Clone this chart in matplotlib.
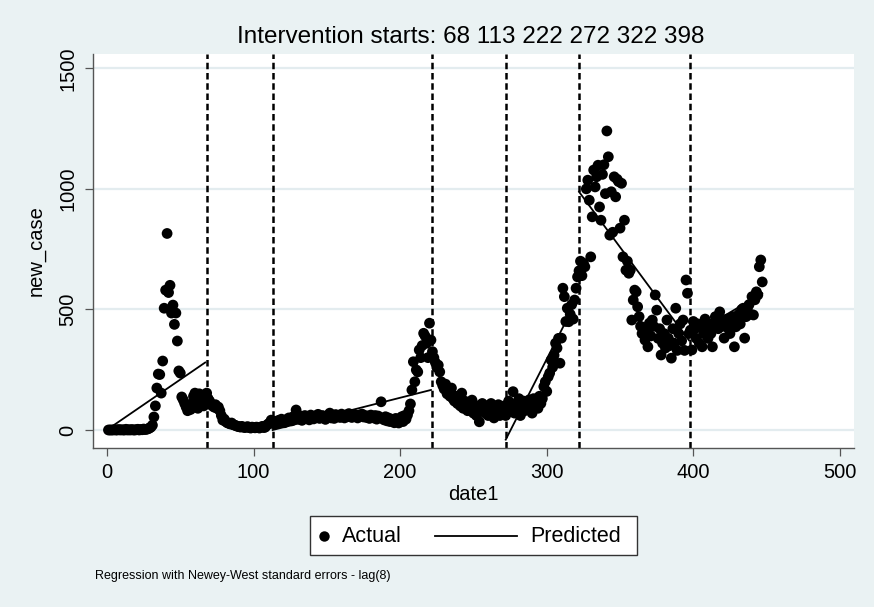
import numpy as np
import matplotlib
matplotlib.use("Agg")
import matplotlib.pyplot as plt
from matplotlib.lines import Line2D
from matplotlib.patches import Rectangle

plt.rcParams['font.family'] = ['Liberation Sans', 'DejaVu Sans']

# ---- data ----
interventions = [68, 113, 222, 272, 322, 398]
seg_starts = [1, 68, 113, 222, 272, 322, 398]

new_case_s1 = [0,0,0,0,1,0,0,2,0,1,0,0,3,0,1,0,2,0,0,1,3,0,2,1,4,2,3,5,8,12,
               20,54,100,174,232,230,153,286,505,580,815,570,600,485,518,438,485,369,245,236,
               137,125,110,95,80,100,85,110,140,153,120,90,150,140,120,100,145]
new_case_s2 = [153,130,120,105,100,95,105,90,95,80,60,41,45,35,30,28,25,29,22,20,
               18,15,14,12,15,12,10,12,14,10,8,12,10,9,12,10,8,12,15,10,12,20,25,29,41]
new_case_s3 = [30,25,35,28,40,32,45,38,30,42,36,50,44,38,55,48,83,52,
               45,58,40,52,60,48,55,42,62,50,46,58,52,65,48,55,60,50,44,57,
               62,70,50,58,48,64,55,60,52,66,58,50,62,55,68,60,52,58,64,55,50,62,58,66,54,60,52,58,48,62,
               55,50,60,45,58,52,117,48,42,55,38,50,35,45,40,30,48,36,29,42,55,35,60,45,62,80,
               108,166,283,200,249,241,332,300,350,401,390,360,300,443,373]
new_case_s4 = [325,300,280,260,269,241,200,185,170,190,150,160,140,174,130,120,140,110,130,100,
               153,90,120,100,80,110,95,124,70,90,60,100,34,80,110,90,70,100,60,85,
               110,75,50,95,80,105,60,90,70,100]
new_case_s5 = [60,90,120,80,100,159,70,110,90,130,60,100,120,80,110,90,125,100,70,130,
               100,120,90,140,110,130,180,200,160,221,236,290,260,310,360,340,380,277,381,588,
               553,450,505,449,480,520,460,539,588,635]
new_case_s6 = [660,700,640,692,677,1000,1036,953,718,884,1078,1008,1050,1098,925,870,1060,1100,980,1240,
               1133,808,988,820,1050,967,1040,1030,837,1023,718,870,663,700,650,663,456,539,580,573,
               511,470,430,400,401,373,420,345,443,390,456,430,560,497,380,420,311,360,400,340,
               456,380,350,298,420,360,505,330,400,440,370,456,330,622,567,400]
new_case_s7 = [414,332,450,420,380,440,360,430,345,400,460,428,380,440,400,345,430,470,460,420,
               490,450,430,381,440,460,420,400,440,470,345,428,460,480,440,500,505,381,470,510,
               520,480,553,477,540,573,560,677,705,614]
segments = [new_case_s1, new_case_s2, new_case_s3, new_case_s4,
            new_case_s5, new_case_s6, new_case_s7]

# predicted (segment-wise linear fit) start / end values; None = hidden by the points
pred_start = [5, None, 0, None, -40, 988, 390]
pred_end = [280, None, 166, None, 545, 372, 567]

title = "Intervention starts: 68 113 222 272 322 398"
note = "Regression with Newey-West standard errors - lag(8)"

# ---- figure ----
W, H = 874, 607
BG = '#eaf2f3'
fig = plt.figure(figsize=(W/100, H/100), dpi=100, facecolor=BG)
L, R, T, B = 92.7, 854.3, 54.3, 447.7
ax = fig.add_axes([L/W, 1-B/H, (R-L)/W, (B-T)/H])
ax.set_facecolor('white')

ax.set_xlim(-9.75, 509.8)
ax.set_ylim(-73.4, 1558)

for y in [0, 500, 1000, 1500]:
    ax.axhline(y, color='#e3ecef', lw=1.6, zorder=0)

for xi in interventions:
    ax.axvline(xi, color='black', lw=1.8, ls=(0, (2.6, 1.5)), zorder=1)

for start, vals in zip(seg_starts, segments):
    d = np.arange(start, start + len(vals))
    ax.scatter(d, vals, s=60, color='black', edgecolors='none', zorder=3)

seg_ends = [s - 1 for s in seg_starts[1:]] + [seg_starts[-1] + len(new_case_s7) - 1]
for s, e, ps, pe in zip(seg_starts, seg_ends, pred_start, pred_end):
    if ps is None:
        continue
    ax.plot([s, e], [ps, pe], color='black', lw=1.3, zorder=4)

for side in ['top', 'right']:
    ax.spines[side].set_visible(False)
for side in ['left', 'bottom']:
    ax.spines[side].set_color('#555555')
    ax.spines[side].set_linewidth(1.0)

ax.set_xticks([0, 100, 200, 300, 400, 500])
ax.set_yticks([0, 500, 1000, 1500])
ax.tick_params(axis='both', direction='out', length=5.5, width=0.9, color='#555555',
               labelsize=14.5, pad=5.5, labelcolor='black')
for lab in ax.get_yticklabels():
    lab.set_rotation(90)
    lab.set_va('center')

ax.set_xlabel('date1', fontsize=14.5, labelpad=2)
ax.set_ylabel('new_case', fontsize=14.5, labelpad=9)
fig.text(471/W, 1-37/H, title, ha='center', va='center', fontsize=17.5)

# legend (drawn manually to match Stata layout)
def fx(x):
    return x / W
def fy(y):
    return 1 - y / H

fig.add_artist(Rectangle((fx(310), fy(555)), (637-310)/W, (555-516)/H,
                         transform=fig.transFigure, facecolor='white',
                         edgecolor='#333333', lw=1.0))
fig.add_artist(Line2D([fx(324)], [fy(536)], marker='o', ms=7.5, color='black',
                      mec='none', transform=fig.transFigure))
fig.text(fx(342), fy(537), 'Actual', ha='left', va='center', fontsize=15.5)
fig.add_artist(Line2D([fx(435), fx(517)], [fy(536), fy(536)], color='black', lw=1.3,
                      transform=fig.transFigure))
fig.text(fx(530), fy(537), 'Predicted', ha='left', va='center', fontsize=15.5)

fig.text(fx(95), fy(576), note, ha='left', va='center', fontsize=9)

fig.savefig('out.png', dpi=100, facecolor=BG)
